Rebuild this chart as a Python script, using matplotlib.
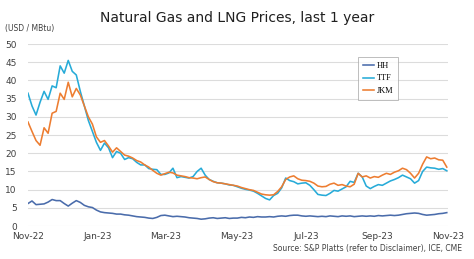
import matplotlib
matplotlib.use("Agg")
import matplotlib.pyplot as plt
import matplotlib.dates as mdates
import numpy as np
import pandas as pd

start_date = "2022-11-01"
step = "3.5D"
hh = [6.2, 6.9, 5.9, 6.0, 6.1, 6.6, 7.3, 7.0, 7.0, 6.2, 5.5, 6.3, 7.0, 6.5, 5.7, 5.3,
      5.1, 4.4, 3.9, 3.7, 3.6, 3.5, 3.3, 3.3, 3.1, 3.0, 2.8, 2.6, 2.5, 2.4, 2.2, 2.1,
      2.4, 2.9, 3.0, 2.8, 2.6, 2.7, 2.6, 2.5, 2.3, 2.2, 2.1, 1.9, 2.0, 2.2, 2.3, 2.1,
      2.2, 2.3, 2.1, 2.2, 2.2, 2.4, 2.3, 2.5, 2.4, 2.6, 2.5, 2.5, 2.6, 2.5, 2.7, 2.8,
      2.7, 2.9, 3.0, 3.0, 2.8, 2.7, 2.8, 2.7, 2.6, 2.7, 2.6, 2.8, 2.7, 2.6, 2.8, 2.7,
      2.8, 2.6, 2.7, 2.8, 2.7, 2.8, 2.7, 2.9, 2.8, 2.9, 3.0, 2.9, 3.0, 3.2, 3.4, 3.5,
      3.6, 3.5, 3.2, 3.0, 3.1, 3.2, 3.4, 3.5, 3.7]
ttf = [36.5, 33.0, 30.5, 34.0, 37.0, 34.8, 38.5, 38.0, 44.0, 42.0, 45.5, 42.5, 41.5, 37.0,
       33.0, 29.0, 26.0, 23.0, 20.8, 22.8, 21.5, 18.8, 20.5, 20.0, 18.3, 18.8, 18.5, 17.5,
       16.8, 16.8, 15.8, 15.6, 15.5, 14.2, 14.2, 14.6, 15.9, 13.3, 13.6, 13.4, 13.2, 13.6,
       15.0, 15.9, 14.0, 12.8, 12.3, 11.9, 11.8, 11.6, 11.3, 11.2, 10.8, 10.4, 10.1, 9.9,
       9.6, 9.0, 8.3, 7.6, 7.2, 8.4, 9.0, 10.5, 13.2, 12.5, 12.2, 11.6, 11.8, 11.9, 11.2,
       10.0, 8.7, 8.5, 8.4, 9.0, 9.8, 9.6, 10.2, 10.8, 12.3, 12.0, 14.5, 13.5, 11.0, 10.3,
       10.9, 11.4, 11.2, 11.8, 12.4, 12.8, 13.3, 14.0, 13.5, 13.0, 11.8, 12.5, 15.0, 16.2,
       16.0, 15.9, 15.6, 15.8, 15.2]
jkm = [28.6, 26.0, 23.5, 22.2, 27.0, 25.5, 31.0, 31.5, 36.5, 34.8, 39.5, 35.5, 37.8, 36.0,
       33.0, 30.0, 28.0, 24.5, 23.0, 23.5, 22.0, 20.3, 21.5, 20.5, 19.5, 19.2, 18.7, 18.0,
       17.6, 16.8, 16.2, 15.3, 14.5, 14.0, 14.4, 14.8, 14.6, 14.0, 13.8, 13.6, 13.3, 13.2,
       13.0, 13.3, 13.5, 12.8, 12.2, 11.9, 11.8, 11.6, 11.4, 11.2, 11.0, 10.6, 10.3, 10.0,
       9.8, 9.3, 8.8, 8.6, 8.5, 8.6, 9.5, 10.8, 12.8, 13.5, 13.8, 13.0, 12.6, 12.5, 12.3,
       11.8, 11.0, 10.8, 10.9, 11.5, 11.8, 11.2, 11.4, 11.0, 10.8, 11.5, 14.5, 13.5, 13.8,
       13.2, 13.6, 13.4, 14.0, 14.5, 14.2, 14.8, 15.2, 15.9, 15.5, 14.5, 13.2, 14.5, 17.0,
       19.0, 18.5, 18.7, 18.2, 18.1, 16.2]
series_names = ["HH", "TTF", "JKM"]
colors = ["#4a6cab", "#27abd8", "#ed7d31"]

dates = pd.date_range(start_date, periods=len(hh), freq=step)

fig = plt.figure(figsize=(4.74, 2.59), dpi=100)
ax = fig.add_axes([0.059, 0.127, 0.886, 0.703])

for name, vals, c in zip(series_names, [hh, ttf, jkm], colors):
    ax.plot(dates, vals, color=c, lw=1.15, label=name)

ax.set_ylim(0, 50)
ax.set_yticks(np.arange(0, 51, 5))
ax.set_xlim(pd.Timestamp("2022-11-01"), pd.Timestamp("2023-11-01"))
ax.xaxis.set_major_locator(mdates.MonthLocator(bymonth=[1, 3, 5, 7, 9, 11]))
ax.xaxis.set_major_formatter(mdates.DateFormatter("%b-%y"))
ax.grid(axis="y", color="#dcdcdc", lw=0.8)
ax.set_axisbelow(True)
for s in ax.spines.values():
    s.set_visible(False)
ax.tick_params(length=0, labelsize=6.5, colors="#404040", pad=4)
ax.tick_params(axis="y", pad=8)

leg = ax.legend(loc="upper left", bbox_to_anchor=(0.775, 0.95), prop={"family": "Liberation Serif", "size": 6},
                frameon=True, fancybox=False, edgecolor="#a0a0a0", handlelength=1.4,
                handletextpad=0.3, borderpad=0.6, labelspacing=0.5)
leg.get_frame().set_linewidth(0.6)

fig.text(0.5, 0.93, "Natural Gas and LNG Prices, last 1 year", ha="center", va="center",
         fontsize=10, color="#202020")
fig.text(0.01, 0.89, "(USD / MBtu)", ha="left", va="center", fontsize=5.5, color="#404040")
fig.text(0.975, 0.04, "Source: S&P Platts (refer to Disclaimer), ICE, CME", ha="right",
         va="center", fontsize=5.5, color="#404040")

fig.savefig("out.png", dpi=100, facecolor="white")
